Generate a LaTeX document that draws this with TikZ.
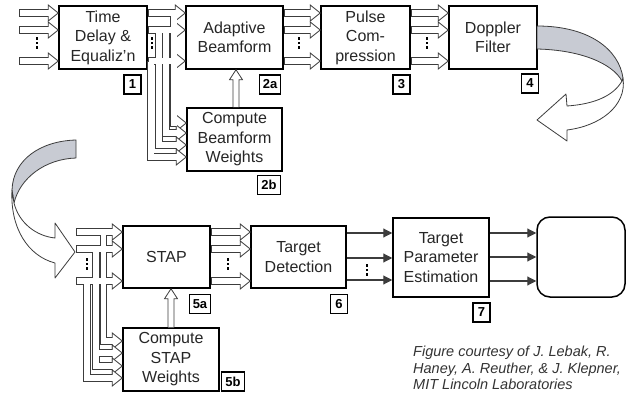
\documentclass[tikz,border=0pt]{standalone}
\usepackage{fontspec}
\setmainfont{Liberation Sans}
\usetikzlibrary{arrows.meta,calc}
\definecolor{ribbon}{RGB}{200,203,211}
\definecolor{lgray}{RGB}{60,60,60}
\newcommand\AllShafts[1]{%
  \foreach \c in {13,30,61}{%
    \draw[#1] (19,\c) -- (b1.west |- 0,\c);
    \draw[#1] (b1.east |- 0,\c) -- (b2a.west |- 0,\c);
    \draw[#1] (b2a.east |- 0,\c) -- (b3.west |- 0,\c);
    \draw[#1] (b3.east |- 0,\c) -- (b4.west |- 0,\c);
  }
  \draw[#1] (173.7,13) -- (173.7,123) -- (b2b.west |- 0,123);
  \draw[#1] (166.3,30) -- (166.3,133) -- (b2b.west |- 0,133);
  \draw[#1] (158.9,30) -- (158.9,145) -- (b2b.west |- 0,145);
  \draw[#1] (150.7,61) -- (150.7,157) -- (b2b.west |- 0,157);
  \foreach \c in {232,249,281}{%
    \draw[#1] (76,\c) -- (b5a.west |- 0,\c);
    \draw[#1] (b5a.east |- 0,\c) -- (b6.west |- 0,\c);
  }
  \draw[#1] (103.5,232) -- (103.5,341) -- (b5b.west |- 0,341);
  \draw[#1] (96,249) -- (96,366) -- (b5b.west |- 0,366);
  \draw[#1] (96,353) -- (b5b.west |- 0,353);
  \draw[#1] (87,281) -- (87,378) -- (b5b.west |- 0,378);
}
\newcommand\BusHead[1]{\draw[bushead] ($(#1)+(-10,-8)$) -- (#1) -- ($(#1)+(-10,8)$) -- cycle;}
\newcommand\DotCol[2]{\foreach \k in {-1,0,1}{\fill[black] (#1-1.3,#2+\k*4.3-1.3) rectangle ++(2.6,2.6);}}
\begin{document}
\begin{tikzpicture}[x=1pt,y=-1pt,
  box/.style={draw=black,line width=1.5pt,fill=white,align=center,text=black!85,
    font=\fontsize{16}{19.5}\selectfont,inner sep=0pt},
  tag/.style={draw=black,line width=1.1pt,fill=white,font=\fontsize{13}{14}\selectfont\bfseries,
    minimum width=17pt,minimum height=19pt,inner xsep=3.5pt,inner ysep=1pt},
  shaftout/.style={draw=lgray,line width=7.4pt,line join=miter,shorten >=10pt},
  shaftin/.style={draw=white,line width=5.8pt,line join=miter,shorten >=9.2pt,shorten <=0.8pt},
  bushead/.style={fill=white,draw=lgray,line width=0.8pt,line join=miter},
  blockup/.style={fill=white,draw=lgray,line width=0.8pt,line join=miter},
  sig/.style={draw=lgray,line width=1.1pt,-{Triangle[length=9pt,width=9pt]}},
  ribbonline/.style={draw=lgray,line width=0.8pt,line join=round},
  caption/.style={font=\fontsize{14.5}{16}\selectfont\itshape,text=black!80,anchor=base west,inner sep=0pt}
]
\useasboundingbox (0,0) rectangle (627,396);
% boxes
\node[box,minimum width=88pt,minimum height=63pt] (b1) at (103,37.5) {Time\\Delay \&\\Equaliz'n};
\node[box,minimum width=97pt,minimum height=63pt] (b2a) at (234.5,37.5) {Adaptive\\Beamform};
\node[box,minimum width=89pt,minimum height=63pt] (b3) at (365.5,37.5) {Pulse\\Com-\\pression};
\node[box,minimum width=88pt,minimum height=63pt] (b4) at (493,37.5) {Doppler\\Filter};
\node[box,minimum width=95pt,minimum height=63pt] (b2b) at (234.5,139.5) {Compute\\Beamform\\Weights};
\node[box,minimum width=87pt,minimum height=62pt] (b5a) at (166.5,257) {STAP};
\node[box,minimum width=96pt,minimum height=63pt] (b5b) at (171,359.5) {Compute\\STAP\\Weights};
\node[box,minimum width=95pt,minimum height=62pt] (b6) at (298.5,257) {Target\\Detection};
\node[box,minimum width=96pt,minimum height=79pt] (b7) at (441,257.5) {Target\\Parameter\\Estimation};
\node[box,minimum width=88pt,minimum height=80pt,rounded corners=13pt] (bend) at (581,257) {};
% tags
\node[tag] (t1) at (132.5,84.5) {1};
\node[tag] (t2a) at (270,84.5) {2a};
\node[tag] (t3) at (401.5,84.5) {3};
\node[tag] (t4) at (530,83.5) {4};
\node[tag] (t2b) at (269,185) {2b};
\node[tag] (t5a) at (200,304) {5a};
\node[tag] (t5b) at (233,381.5) {5b};
\node[tag] (t6) at (339,304) {6};
\node[tag] (t7) at (481.5,312.5) {7};
% bus arrows
\AllShafts{shaftout}
\foreach \c in {13,30,61}{\BusHead{b1.west |- 0,\c}\BusHead{b2a.west |- 0,\c}\BusHead{b3.west |- 0,\c}\BusHead{b4.west |- 0,\c}}
\foreach \c in {123,133,145,157}{\BusHead{b2b.west |- 0,\c}}
\foreach \c in {232,249,281}{\BusHead{b5a.west |- 0,\c}\BusHead{b6.west |- 0,\c}}
\foreach \c in {341,353,366,378}{\BusHead{b5b.west |- 0,\c}}
\AllShafts{shaftin}
% dots
\DotCol{37}{43}
\DotCol{152}{43}
\DotCol{299}{43}
\DotCol{427}{43}
\DotCol{87}{264}
\DotCol{228}{264}
\DotCol{367}{270}
% block arrows up
\draw[blockup] ($(b2b.north)+(-1.5,0)$) -- ($(b2a.south)+(-1.5,10)$) -- ($(b2a.south)+(-5,10)$)
  -- ($(b2a.south)+(1.5,0)$) -- ($(b2a.south)+(8,10)$) -- ($(b2a.south)+(4.5,10)$) -- ($(b2b.north)+(4.5,0)$);
\draw[blockup] ($(b5b.north)+(-3,0)$) -- ($(b5b.north |- b5a.south)+(-3,10)$) -- ($(b5b.north |- b5a.south)+(-6.5,10)$)
  -- (b5b.north |- b5a.south) -- ($(b5b.north |- b5a.south)+(6.5,10)$) -- ($(b5b.north |- b5a.south)+(3,10)$) -- ($(b5b.north)+(3,0)$);
% signal arrows
\foreach \y in {233,258,280}{\draw[sig] (b6.east |- 0,\y) -- (b7.west |- 0,\y);}
\foreach \y in {233,257,281}{\draw[sig] (b7.east |- 0,\y) -- (bend.west |- 0,\y);}
% big curved arrows
\filldraw[ribbonline,fill=ribbon] (537,26) .. controls (590,26) and (619,50) .. (623,78) -- (622,81)
  .. controls (612,63) and (580,50) .. (537,49) -- cycle;
\filldraw[ribbonline,fill=white] (623,78) .. controls (627,106) and (600,126) .. (567,130) -- (567,141)
  -- (537,120) -- (566,94) -- (567,106) .. controls (596,104) and (614,95) .. (622,81) -- cycle;
\filldraw[ribbonline,fill=ribbon] (76,140) .. controls (40,141) and (13,160) .. (12,190) -- (14,203)
  .. controls (20,178) and (45,159) .. (76,158) -- cycle;
\filldraw[ribbonline,fill=white] (12,190) .. controls (10,228) and (28,256) .. (55,263) -- (55,278)
  -- (75,252) -- (55,223) -- (55,238) .. controls (36,236) and (19,223) .. (14,203) -- cycle;
% caption
\node[caption] (c1) at (413,356.7) {Figure courtesy of J. Lebak, R.};
\node[caption] (c2) at (413,373.2) {Haney, A. Reuther, \& J. Klepner,};
\node[caption] (c3) at (413,389.5) {MIT Lincoln Laboratories};
\end{tikzpicture}
\end{document}
